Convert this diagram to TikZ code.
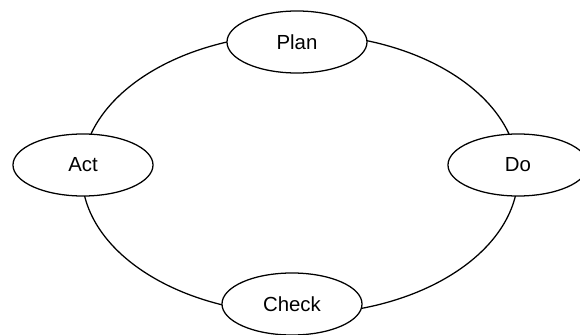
\documentclass[tikz,border=0pt]{standalone}
\usepackage{fontspec}
\setmainfont{Liberation Sans}
\usetikzlibrary{shapes.geometric}

\begin{document}
\begin{tikzpicture}[x=0.025cm,y=-0.025cm,line width=0.9pt,font=\fontsize{14.5}{17}\selectfont,
  stage/.style={ellipse,draw,fill=white,minimum width=3.5cm,minimum height=1.55cm,inner sep=0pt}]
\useasboundingbox (0,0) rectangle (580,335);
\coordinate (hub) at (300,174);
\draw (hub) ellipse [x radius=5.45cm,y radius=3.5cm];
\node[stage] (plan) at (297,42) {Plan};
\node[stage] (do) at (518,165) {Do};
\node[stage] (check) at (292,304) {Check};
\node[stage] (act) at (83,165) {Act};
\end{tikzpicture}
\end{document}
